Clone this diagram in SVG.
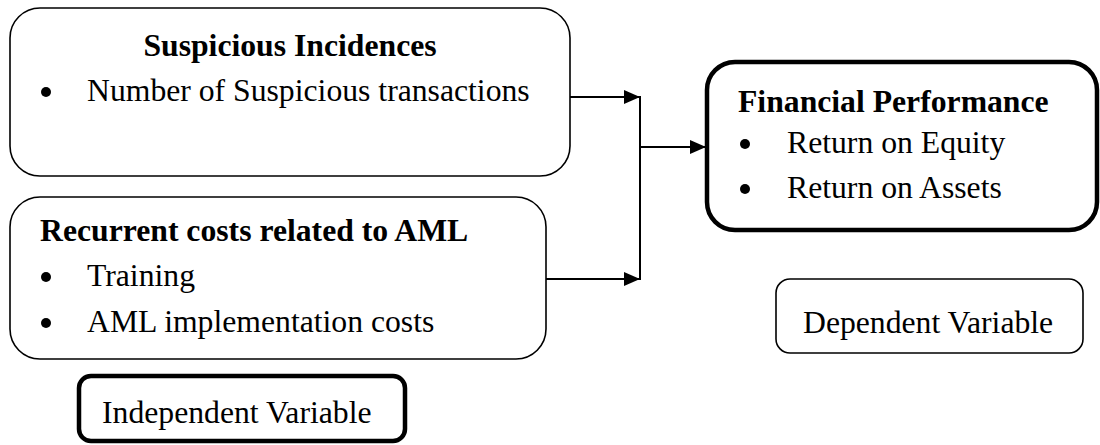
<svg xmlns="http://www.w3.org/2000/svg" width="1100" height="445" viewBox="0 0 1100 445">
<defs>
<style>
.box{fill:#fff;stroke:#000;stroke-width:1.6}
.thick{fill:#fff;stroke:#000;stroke-width:4.5}
.t{font-family:"Liberation Serif","Times New Roman",serif;font-size:31.7px;fill:#000}
.b{font-weight:bold}
.ln{stroke:#000;stroke-width:2;fill:none}
.dot{fill:#000}
</style>
<marker id="ah" viewBox="0 0 16 16" refX="16" refY="8" markerWidth="16" markerHeight="16" markerUnits="userSpaceOnUse" orient="auto">
<path d="M0,1 L16,8 L0,15 Z" fill="#000"/>
</marker>
</defs>
<rect width="1100" height="445" fill="#fff"/>
<g id="connectors">
<line class="ln" x1="570" y1="97" x2="640" y2="97" marker-end="url(#ah)"/>
<line class="ln" x1="546" y1="279" x2="640" y2="279" marker-end="url(#ah)"/>
<line class="ln" x1="640" y1="96" x2="640" y2="280"/>
<line class="ln" x1="640" y1="147" x2="706" y2="147" marker-end="url(#ah)"/>
</g>
<g id="suspicious">
<rect class="box" x="10" y="8" width="560" height="168" rx="30"/>
<text class="t b" x="290" y="56" text-anchor="middle">Suspicious Incidences</text>
<circle class="dot" cx="46" cy="92" r="5"/>
<text class="t" x="87" y="101">Number of Suspicious transactions</text>
</g>
<g id="recurrent">
<rect class="box" x="10" y="197" width="536" height="162" rx="30"/>
<text class="t b" x="40" y="241">Recurrent costs related to AML</text>
<circle class="dot" cx="46" cy="277" r="5"/>
<text class="t" x="87" y="286">Training</text>
<circle class="dot" cx="46" cy="323" r="5"/>
<text class="t" x="87" y="332">AML implementation costs</text>
</g>
<g id="financial">
<rect class="thick" x="707" y="62" width="390" height="168" rx="28"/>
<text class="t b" x="738" y="112">Financial Performance</text>
<circle class="dot" cx="745" cy="144" r="5"/>
<text class="t" x="787" y="153">Return on Equity</text>
<circle class="dot" cx="745" cy="189" r="5"/>
<text class="t" x="787" y="198">Return on Assets</text>
</g>
<g id="dependent">
<rect class="box" x="776" y="279" width="307" height="74" rx="14"/>
<text class="t" x="803" y="333">Dependent Variable</text>
</g>
<g id="independent">
<rect class="thick" x="79" y="376" width="326" height="65" rx="12"/>
<text class="t" x="102" y="423">Independent Variable</text>
</g>
</svg>
